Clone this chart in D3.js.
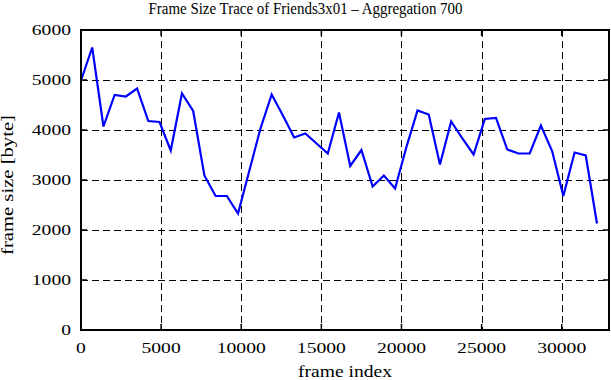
<!DOCTYPE html>
<html>
<head>
<meta charset="utf-8">
<script src="https://cdn.jsdelivr.net/npm/d3@7"></script>
<style>
  body { margin: 0; background: #fff; }
  text { font-family: "Liberation Serif", "DejaVu Serif", serif; fill: #000; }
</style>
</head>
<body>
<svg id="chart" width="611" height="380"></svg>
<script>
// frame index (start of each aggregation window of 700 frames)
const frameIndex = [0, 700, 1400, 2100, 2800, 3500, 4200, 4900, 5600, 6300,
  7000, 7700, 8400, 9100, 9800, 10500, 11200, 11900, 12600, 13300,
  14000, 14700, 15400, 16100, 16800, 17500, 18200, 18900, 19600, 20300,
  21000, 21700, 22400, 23100, 23800, 24500, 25200, 25900, 26600, 27300,
  28000, 28700, 29400, 30100, 30800, 31500, 32200];
// aggregated frame size in byte
const frameSize = [4990, 5650, 4070, 4700, 4670, 4830, 4180, 4160, 3590, 4730,
  4380, 3090, 2680, 2680, 2330, 3180, 4030, 4710, 4290, 3850,
  3930, 3730, 3530, 4350, 3280, 3600, 2870, 3090, 2830, 3650,
  4390, 4310, 3310, 4170, 3830, 3510, 4220, 4240, 3610, 3530,
  3530, 4090, 3580, 2680, 3550, 3490, 2130];
const xTicks = [0, 5000, 10000, 15000, 20000, 25000, 30000];
const yTicks = [0, 1000, 2000, 3000, 4000, 5000, 6000];
const titleText = "Frame Size Trace of Friends3x01 \u2013 Aggregation 700";

const svg = d3.select("#chart");
const pLeft = 81, pRight = 609, pTop = 30, pBottom = 330;

const x = d3.scaleLinear().domain([0, 32950]).range([pLeft, pRight]);
const y = d3.scaleLinear().domain([0, 6000]).range([pBottom, pTop]);

// grid
const grid = svg.append("g")
  .attr("stroke", "#000")
  .attr("stroke-width", 1)
  .attr("stroke-dasharray", "7,4")
  .attr("shape-rendering", "crispEdges");
grid.selectAll(".vg")
  .data(xTicks.filter(d => d > 0))
  .join("line")
  .attr("x1", d => Math.round(x(d)) + 0.5).attr("x2", d => Math.round(x(d)) + 0.5)
  .attr("y1", pTop).attr("y2", pBottom);
grid.selectAll(".hg")
  .data(yTicks.filter(d => d > 0 && d < 6000))
  .join("line")
  .attr("y1", d => Math.round(y(d)) + 0.5).attr("y2", d => Math.round(y(d)) + 0.5)
  .attr("x1", pLeft).attr("x2", pRight);

// inward ticks on all sides (mirrored like gnuplot)
const ticks = svg.append("g").attr("stroke", "#000").attr("stroke-width", 1.5);
ticks.selectAll(".xt")
  .data(xTicks)
  .join("path")
  .attr("d", d => `M${x(d)},${pBottom}v-6M${x(d)},${pTop}v6`);
ticks.selectAll(".yt")
  .data(yTicks)
  .join("path")
  .attr("d", d => `M${pLeft},${y(d)}h6M${pRight},${y(d)}h-6`);

// data line
const line = d3.line()
  .x((d, i) => x(frameIndex[i]))
  .y(d => y(d));
svg.append("path")
  .datum(frameSize)
  .attr("fill", "none")
  .attr("stroke", "#0000ff")
  .attr("stroke-width", 2.2)
  .attr("stroke-linejoin", "miter")
  .attr("d", line);

// border
svg.append("rect")
  .attr("x", pLeft).attr("y", pTop)
  .attr("width", pRight - pLeft).attr("height", pBottom - pTop)
  .attr("fill", "none")
  .attr("stroke", "#000")
  .attr("stroke-width", 2);

// tick labels
const digitW = 9.8;
svg.append("g").selectAll("text")
  .data(xTicks)
  .join("text")
  .attr("x", d => x(d))
  .attr("y", 353)
  .attr("text-anchor", "middle")
  .attr("font-size", 14)
  .attr("textLength", d => String(d).length * digitW)
  .attr("lengthAdjust", "spacingAndGlyphs")
  .text(d => d);
svg.append("g").selectAll("text")
  .data(yTicks)
  .join("text")
  .attr("x", 71)
  .attr("y", d => y(d) + 5)
  .attr("text-anchor", "end")
  .attr("font-size", 14)
  .attr("textLength", d => String(d).length * digitW)
  .attr("lengthAdjust", "spacingAndGlyphs")
  .text(d => d);

// title and axis labels
svg.append("text")
  .attr("x", 305.5).attr("y", 14)
  .attr("text-anchor", "middle")
  .attr("font-size", 16)
  .attr("textLength", 314)
  .attr("lengthAdjust", "spacingAndGlyphs")
  .text(titleText);
svg.append("text")
  .attr("x", 345).attr("y", 377)
  .attr("text-anchor", "middle")
  .attr("font-size", 16)
  .attr("textLength", 94)
  .attr("lengthAdjust", "spacingAndGlyphs")
  .text("frame index");
svg.append("text")
  .attr("transform", "translate(13,185) rotate(-90)")
  .attr("text-anchor", "middle")
  .attr("font-size", 16)
  .attr("textLength", 140)
  .attr("lengthAdjust", "spacingAndGlyphs")
  .text("frame size [byte]");
</script>
</body>
</html>
